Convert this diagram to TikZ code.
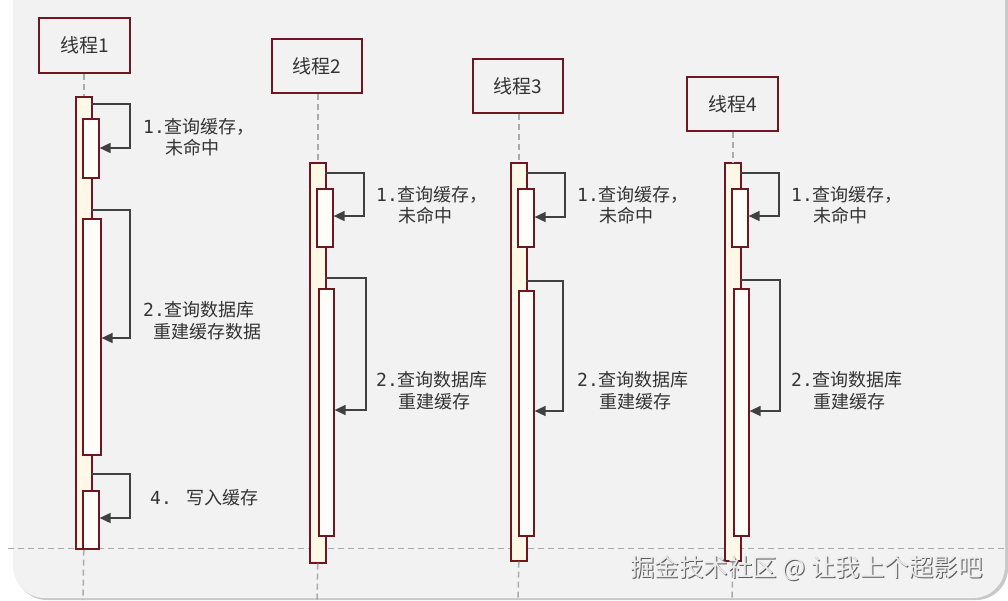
\documentclass[tikz,border=0pt]{standalone}
\usepackage{fontspec}
\setmainfont{Noto Sans CJK SC}
\newfontfamily\digitfont{DejaVu Sans Mono}
\usetikzlibrary{arrows.meta,calc}
\definecolor{maroon}{RGB}{112,22,32}
\definecolor{panel}{RGB}{242,242,242}
\definecolor{shadowc}{RGB}{200,200,200}
\definecolor{txt}{RGB}{51,51,51}
\definecolor{arr}{RGB}{64,64,64}
\definecolor{actfill}{RGB}{255,248,230}
\definecolor{inner}{RGB}{255,253,250}
\definecolor{life}{RGB}{170,170,170}
\begin{document}
\begin{tikzpicture}[x=1pt,y=-1pt,
  thread/.style={draw=maroon,line width=1.7pt,fill=panel,anchor=north west,inner sep=0pt,
    font=\fontsize{19}{21}\selectfont,text=txt},
  actbar/.style={draw=maroon,line width=1.6pt,fill=actfill,anchor=north west,inner sep=0pt,minimum width=16pt},
  innerbar/.style={draw=maroon,line width=1.6pt,fill=inner,anchor=north west,inner sep=0pt,minimum width=16pt},
  lifeline/.style={draw=life,line width=1.5pt,dash pattern=on 6pt off 4pt},
  msg/.style={draw=arr,line width=1.6pt,-{Triangle[length=11pt,width=10pt]}},
  lbl/.style={anchor=west,inner sep=0pt,text=txt,font=\fontsize{18}{20}\selectfont},
  wm/.style={anchor=west,inner sep=0pt,font=\fontsize{24.5}{26}\selectfont}
]
\useasboundingbox (0,0) rectangle (1008,600);
% background panel
\fill[white] (0,0) rectangle (1008,600);
\fill[shadowc,rounded corners=32pt] (15,-40) rectangle (1008,600);
\fill[panel,rounded corners=32pt] (13,-40) rectangle (1005,598);
% horizontal dashed line
\draw[life,line width=1pt,dash pattern=on 6pt off 4pt] (8,548) -- (1008,548);

% ---------- thread 1 ----------
\node[thread,minimum width=91pt,minimum height=55pt] (t1) at (38,17) {线程1};
\node[actbar,minimum height=452pt] (t1o) at (75,96) {};
\draw[lifeline] (t1.south -| t1o.north) -- (t1o.north);
\coordinate (t1end) at (83,600);
\draw[lifeline] (t1o.south) -- (t1end);
\node[innerbar,minimum height=59pt] (t1a) at (82,118) {};
\node[innerbar,minimum width=18pt,minimum height=236pt] (t1b) at (82,218) {};
\node[innerbar,minimum height=58pt] (t1c) at (82,490) {};
\coordinate (s11) at (91,104);
\coordinate (s12) at (91,210);
\coordinate (s13) at (91,474);
\draw[msg] (s11) -- (130,104) -- (130,148) -- (t1a.east |- 0,148);
\draw[msg] (s12) -- (130,210) -- (130,338) -- (t1b.east |- 0,338);
\draw[msg] (s13) -- (130,474) -- (130,518) -- (t1c.east |- 0,518);
\node[lbl] (l11) at (143,127) {{\digitfont 1.}查询缓存，};
\node[lbl] (l12) at (165,148) {未命中};
\node[lbl] (l13) at (143,310) {{\digitfont 2.}查询数据库};
\node[lbl] (l14) at (153,332) {重建缓存数据};
\node[lbl] (l15) at (150,498) {{\digitfont 4. }写入缓存};

% ---------- thread 2 ----------
\node[thread,minimum width=90pt,minimum height=54pt] (t2) at (271,38) {线程2};
\node[actbar,minimum height=400pt] (t2o) at (309,162) {};
\draw[lifeline] (t2.south -| t2o.north) -- (t2o.north);
\coordinate (t2end) at (317,600);
\draw[lifeline] (t2o.south) -- (t2end);
\node[innerbar,minimum height=58pt] (t2a) at (316,188) {};
\node[innerbar,minimum width=15pt,minimum height=247pt] (t2b) at (318,288) {};
\coordinate (s21) at (325,173);
\coordinate (s22) at (325,278);
\draw[msg] (s21) -- (364,173) -- (364,216) -- (t2a.east |- 0,216);
\draw[msg] (s22) -- (366,278) -- (366,410) -- (t2b.east |- 0,410);
\node[lbl] (l21) at (376,195) {{\digitfont 1.}查询缓存，};
\node[lbl] (l22) at (398,216) {未命中};
\node[lbl] (l23) at (376,380) {{\digitfont 2.}查询数据库};
\node[lbl] (l24) at (398,402) {重建缓存};

% ---------- thread 3 ----------
\node[thread,minimum width=90pt,minimum height=54pt] (t3) at (472,58) {线程3};
\node[actbar,minimum height=398pt] (t3o) at (510,162) {};
\draw[lifeline] (t3.south -| t3o.north) -- (t3o.north);
\coordinate (t3end) at (518,600);
\draw[lifeline] (t3o.south) -- (t3end);
\node[innerbar,minimum height=58pt] (t3a) at (517,188) {};
\node[innerbar,minimum width=15pt,minimum height=245pt] (t3b) at (518,290) {};
\coordinate (s31) at (526,173);
\coordinate (s32) at (526,281);
\draw[msg] (s31) -- (565,173) -- (565,217) -- (t3a.east |- 0,217);
\draw[msg] (s32) -- (563,281) -- (563,411) -- (t3b.east |- 0,411);
\node[lbl] (l31) at (577,195) {{\digitfont 1.}查询缓存，};
\node[lbl] (l32) at (599,216) {未命中};
\node[lbl] (l33) at (577,380) {{\digitfont 2.}查询数据库};
\node[lbl] (l34) at (599,402) {重建缓存};

% ---------- thread 4 ----------
\node[thread,minimum width=91pt,minimum height=54pt] (t4) at (686,76) {线程4};
\node[actbar,minimum height=398pt] (t4o) at (724,162) {};
\draw[lifeline] (t4.south -| t4o.north) -- (t4o.north);
\coordinate (t4end) at (732,600);
\draw[lifeline] (t4o.south) -- (t4end);
\node[innerbar,minimum height=58pt] (t4a) at (731,188) {};
\node[innerbar,minimum width=15pt,minimum height=247pt] (t4b) at (733,288) {};
\coordinate (s41) at (740,173);
\coordinate (s42) at (740,280);
\draw[msg] (s41) -- (779,173) -- (779,216) -- (t4a.east |- 0,216);
\draw[msg] (s42) -- (780,280) -- (780,411) -- (t4b.east |- 0,411);
\node[lbl] (l41) at (791,195) {{\digitfont 1.}查询缓存，};
\node[lbl] (l42) at (813,216) {未命中};
\node[lbl] (l43) at (791,380) {{\digitfont 2.}查询数据库};
\node[lbl] (l44) at (813,402) {重建缓存};

% ---------- watermark ----------
\node[wm,text={rgb,255:red,90;green,90;blue,90}] (wms) at (631,569) {掘金技术社区 @ 让我上个超影吧};
\node[wm,text={rgb,255:red,235;green,235;blue,235}] (wmt) at (630,568) {掘金技术社区 @ 让我上个超影吧};
\end{tikzpicture}
\end{document}
